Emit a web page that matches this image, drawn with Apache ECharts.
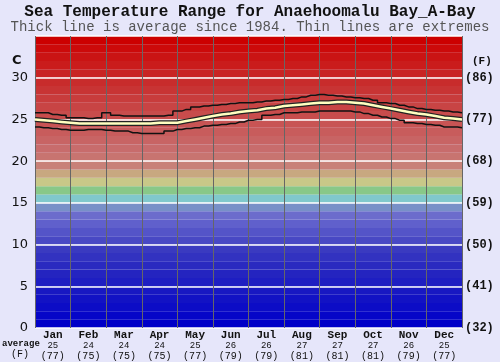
<!DOCTYPE html>
<html><head><meta charset="utf-8">
<script src="https://cdn.jsdelivr.net/npm/echarts@6/dist/echarts.min.js"></script>
<style>html,body{margin:0;padding:0;background:#e6e6fa;}#c{width:500px;height:362px;}</style>
</head><body><div id="c"></div>
<script>
const months = ['Jan','Feb','Mar','Apr','May','Jun','Jul','Aug','Sep','Oct','Nov','Dec'];
const monthAvgC = ['25','24','24','24','25','26','26','27','27','27','26','25'];
const monthAvgF = ['(77)','(75)','(75)','(75)','(77)','(79)','(79)','(81)','(81)','(81)','(79)','(77)'];
const cTicks = [0,5,10,15,20,25,30];
const fTicks = ['(32)','(41)','(50)','(59)','(68)','(77)','(86)'];
// quarter-month samples, Jan 1 .. Dec 31
const avgTemp = [25.0,24.9,24.8,24.7, 24.6,24.5,24.5,24.5, 24.5,24.5,24.5,24.5, 24.5,24.5,24.6,24.6,
  24.6,24.8,25.0,25.2, 25.4,25.6,25.7,25.9, 26.0,26.1,26.3,26.4, 26.6,26.7,26.8,26.9,
  27.0,27.0,27.1,27.1, 27.0,26.9,26.7,26.5, 26.3,26.1,25.9,25.7, 25.6,25.4,25.2,25.1, 25.0];
const maxTemp = [25.8,25.8,25.6,25.5, 25.2,25.2,25.1,25.2, 25.8,25.5,25.4,25.4, 25.4,25.4,25.4,25.5,
  26.0,26.2,26.5,26.6, 26.7,26.8,26.9,27.0, 27.0,27.1,27.2,27.3, 27.4,27.5,27.7,27.9,
  28.0,27.9,27.8,27.7, 27.6,27.5,27.3,27.0, 26.9,26.7,26.5,26.3, 26.2,26.1,26.0,25.9, 25.8];
const minTemp = [24.1,24.0,23.9,23.8, 23.7,23.7,23.8,23.8, 23.7,23.6,23.6,23.4, 23.3,23.3,23.3,23.6,
  23.8,23.9,24.0,24.2, 24.3,24.4,24.5,24.7, 24.9,25.0,25.5,25.6, 25.8,25.8,25.9,25.9,
  26.0,26.0,26.0,26.0, 25.9,25.7,25.5,25.3, 25.1,24.9,24.6,24.5, 24.4,24.3,24.1,24.1, 24.0];

const bandColors = ['#0000c8','#0606c8','#0c0cc6','#1212c4','#1818c2','#1e1ec2','#2424c0','#2a2ac0','#3232c0','#3a3ac0',
  '#4848c4','#5454c8','#6060cc','#6c6ccc','#7890c8','#80c8cc','#88c888','#c8c888','#c8a880','#c88078',
  '#c87470','#c86c6c','#c86464','#c85c5c','#c85454','#c84c4c','#c84444','#c83c3c','#c83434','#c82c2c',
  '#c82424','#ca1c1c','#ca1414','#cc0a0a','#cc0000'];

const pts = arr => arr.map((v,i)=>[i/4, v]);
const bands = bandColors.map((c,i)=>[{yAxis:i, itemStyle:{color:c}},{yAxis:i+1}]);

const mono = "'Liberation Mono','DejaVu Sans Mono',monospace";
const chart = echarts.init(document.getElementById('c'), null, {renderer:'canvas'});
chart.setOption({
  animation:false,
  backgroundColor:'#e6e6fa',
  title:[
    {text:'Sea Temperature Range for Anaehoomalu Bay_A-Bay', left:'center', top:4, padding:0,
     textStyle:{fontFamily:mono, fontWeight:'bold', fontSize:16, color:'#111'}},
    {text:'Thick line is average since 1984. Thin lines are extremes', left:'center', top:20, padding:0,
     textStyle:{fontFamily:mono, fontWeight:'normal', fontSize:14, color:'#555'}}
  ],
  grid:{left:35, right:38, top:36, bottom:34},
  xAxis:[
    {type:'category', data:months, boundaryGap:true, z:3,
     axisLine:{show:false}, axisTick:{show:false},
     splitLine:{show:true, lineStyle:{color:'#666', width:1}},
     axisLabel:{margin:2, interval:0,
       formatter:(v,i)=>'{m|'+v+'}\n{c|'+monthAvgC[i]+'}\n{f|'+monthAvgF[i]+'}',
       rich:{m:{fontFamily:mono, fontWeight:'bold', fontSize:11, color:'#111', lineHeight:11},
             c:{fontFamily:mono, fontSize:9, color:'#111', lineHeight:10},
             f:{fontFamily:mono, fontSize:10, color:'#111', lineHeight:10}}}},
    {type:'value', min:0, max:12, show:false}
  ],
  yAxis:[
    {type:'value', min:0, max:35, interval:5, z:3,
     axisLine:{show:false}, axisTick:{show:false},
     splitLine:{show:true, lineStyle:{color:'#ffffff', width:1.5}},
     axisLabel:{margin:7, fontFamily:"'DejaVu Sans',sans-serif", fontSize:13, color:'#111',
       formatter:v=> cTicks.indexOf(v)>=0 ? String(v) : ''}},
    {type:'value', min:0, max:35, interval:5, position:'right',
     axisLine:{show:false}, axisTick:{show:false}, splitLine:{show:false},
     axisLabel:{margin:3, fontFamily:mono, fontWeight:'bold', fontSize:12, color:'#111',
       formatter:v=> { const k = cTicks.indexOf(v); return k>=0 ? fTicks[k] : ''; }}}
  ],
  graphic:[
    {type:'text', left:12, top:54, style:{text:'C', font:"bold 13px 'DejaVu Sans'", fill:'#111'}},
    {type:'text', left:472, top:56, style:{text:'(F)', font:"bold 11px 'Liberation Mono'", fill:'#111'}},
    {type:'text', left:2, top:339, style:{text:'average', font:"bold 9px 'Liberation Mono'", fill:'#111'}},
    {type:'text', left:11, top:349, style:{text:'(F)', font:"10px 'Liberation Mono'", fill:'#111'}}
  ],
  series:[
    {type:'line', xAxisIndex:1, yAxisIndex:0, data:[], z:1, silent:true,
     markArea:{silent:true, data:bands}},
    {type:'line', xAxisIndex:1, data:pts(maxTemp), step:'middle', symbol:'none', z:5,
     lineStyle:{color:'#111', width:1.5}},
    {type:'line', xAxisIndex:1, data:pts(minTemp), step:'middle', symbol:'none', z:5,
     lineStyle:{color:'#111', width:1.5}},
    {type:'line', xAxisIndex:1, data:pts(avgTemp), symbol:'none', z:6,
     lineStyle:{color:'#222', width:5}},
    {type:'line', xAxisIndex:1, data:pts(avgTemp), symbol:'none', z:7,
     lineStyle:{color:'#ffffc0', width:2.5}}
  ]
});
</script></body></html>
